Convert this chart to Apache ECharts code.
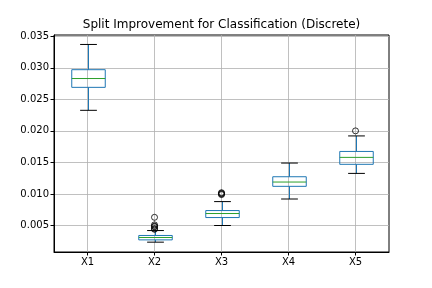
<!DOCTYPE html>
<html><head><meta charset="utf-8">
<script src="https://cdn.jsdelivr.net/npm/echarts@6/dist/echarts.min.js"></script>
<style>html,body{margin:0;padding:0;background:#fff}#c{width:432px;height:288px}</style>
</head><body><div id="c"></div>
<script>
const categories = ['X1', 'X2', 'X3', 'X4', 'X5'];
const whiskerLow  = [0.02326, 0.00236, 0.0050, 0.0092, 0.01326];
const q1          = [0.0269, 0.00272, 0.00626, 0.01121, 0.0147];
const median      = [0.0283, 0.0031, 0.0069, 0.01189, 0.0158];
const q3          = [0.0297, 0.00342, 0.00737, 0.01273, 0.01674];
const whiskerHigh = [0.0337, 0.0042, 0.00879, 0.0149, 0.0192];
const outliers = [[], [0.0063, 0.0051, 0.0049, 0.0048, 0.0045, 0.0044], [0.0102, 0.0101, 0.0100, 0.0099], [], [0.0200]];
const yTicks = [0.005, 0.010, 0.015, 0.020, 0.025, 0.030, 0.035];
const xTicks = [1, 2, 3, 4, 5];
const title = 'Split Improvement for Classification (Discrete)';

const boxData = categories.map((c, i) => [i + 1, whiskerLow[i], q1[i], median[i], q3[i], whiskerHigh[i]]);
const flierData = [];
outliers.forEach((arr, i) => arr.forEach(v => flierData.push([i + 1, v])));

const BLUE = '#1f77b4', GREEN = '#2ca02c';
function renderItem(params, api) {
  const x = api.value(0);
  const lo = api.coord([x, api.value(1)]);
  const b1 = api.coord([x, api.value(2)]);
  const md = api.coord([x, api.value(3)]);
  const b3 = api.coord([x, api.value(4)]);
  const hi = api.coord([x, api.value(5)]);
  const bw = api.size([0.5, 0])[0];
  const cw = bw / 2;
  const cx = Math.round(lo[0]) + 0.5;
  const line = (x1, y1, x2, y2, color) => ({ type: 'line', shape: { x1, y1, x2, y2 }, style: { stroke: color, lineWidth: 1 } });
  return {
    type: 'group',
    children: [
      line(cx, lo[1], cx, b1[1], BLUE),
      line(cx, b3[1], cx, hi[1], BLUE),
      line(cx - cw / 2, lo[1], cx + cw / 2, lo[1], '#000'),
      line(cx - cw / 2, hi[1], cx + cw / 2, hi[1], '#000'),
      { type: 'rect', shape: { x: cx - bw / 2, y: b3[1], width: bw, height: b1[1] - b3[1] }, style: { stroke: BLUE, fill: 'none', lineWidth: 1 } },
      line(cx - bw / 2, md[1], cx + bw / 2, md[1], GREEN)
    ]
  };
}

const chart = echarts.init(document.getElementById('c'), null, { renderer: 'canvas' });
const txt = { fontFamily: 'DejaVu Sans', fontSize: 10, color: '#000' };
chart.setOption({
  animation: false,
  backgroundColor: '#fff',
  grid: { left: 54, right: 43, top: 35, bottom: 36, show: true, borderColor: '#000', borderWidth: 1, backgroundColor: 'transparent' },
  graphic: [{ type: 'text', x: 221.5, y: 25, style: { text: title, font: '12px "DejaVu Sans"', fill: '#000', align: 'center', verticalAlign: 'middle' } }],
  xAxis: {
    type: 'value', min: 0.5, max: 5.5,
    axisLine: { show: true, lineStyle: { color: '#000' } },
    axisTick: { show: true, length: 3.5, customValues: xTicks, lineStyle: { color: '#000' } },
    axisLabel: { ...txt, margin: 5, customValues: xTicks, formatter: v => categories[Math.round(v) - 1] || '' },
    splitLine: { show: true, lineStyle: { color: '#b0b0b0', width: 0.8 } }
  },
  yAxis: {
    type: 'value', min: 0.0008, max: 0.0352,
    axisLine: { show: true, lineStyle: { color: '#000' } },
    axisTick: { show: true, length: 3.5, customValues: yTicks, lineStyle: { color: '#000' } },
    axisLabel: { ...txt, margin: 5, customValues: yTicks, formatter: v => v.toFixed(3) },
    splitLine: { show: true, lineStyle: { color: '#b0b0b0', width: 0.8 } }
  },
  series: [
    { type: 'custom', renderItem, data: boxData, encode: { x: 0, y: [1, 2, 3, 4, 5] }, z: 3 },
    { type: 'scatter', data: flierData, symbol: 'circle', symbolSize: 6, itemStyle: { color: 'rgba(0,0,0,0)', borderColor: '#000', borderWidth: 1 }, z: 4 }
  ]
});
</script></body></html>
